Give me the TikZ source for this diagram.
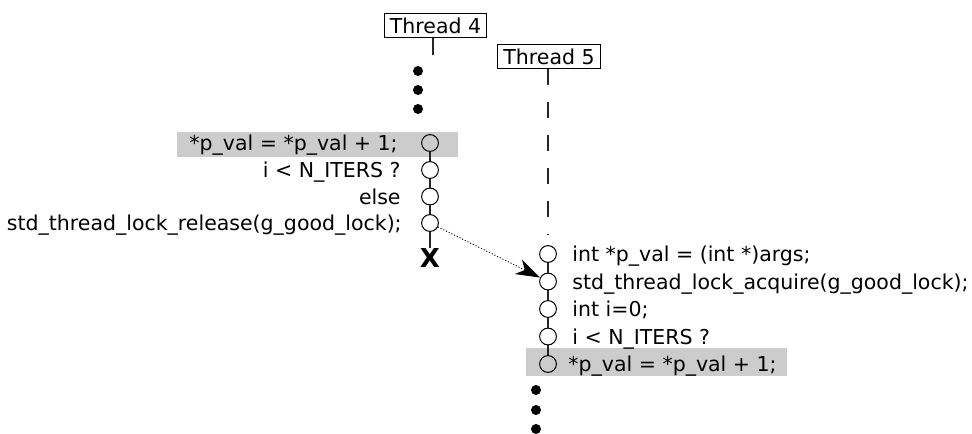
\documentclass[tikz,border=0pt]{standalone}
\usepackage{fontspec}
\setmainfont{DejaVu Sans}
\usetikzlibrary{arrows.meta}
\tikzset{>={Stealth[length=12pt,width=8pt,inset=3.5pt]}}
\tikzset{
    thread/.style={draw, inner xsep=2.8pt, inner ysep=1.8pt, line width=0.5pt},
    op/.style={circle, draw, minimum size=8.4pt, inner sep=0pt, line width=0.5pt},
    code/.style={inner sep=0pt},
    wire/.style={line width=0.6pt, black!85},
}

\begin{document}
\begin{tikzpicture}[x=0.5pt, y=-0.5pt, font=\fontsize{10.25}{12}\selectfont]
    \useasboundingbox (0,0) rectangle (972,433);
    % highlighted statements
    \fill[gray!40] (177,132) rectangle (458,157);
    \fill[gray!40] (526,348) rectangle (787,376);

    % Thread 4
    \node[thread] (t4) at (435.5,25.5) {Thread 4};
    \coordinate (t4end) at (433,55);
    \draw[wire] (t4.south -| t4end) -- (t4end);
    \foreach \y in {71,90,109} \fill (418,\y) circle (2.5pt);
    \node[op] (a1) at (430,143) {};
    \node[op] (a2) at (430,170) {};
    \node[op] (a3) at (430,196.5) {};
    \node[op] (a4) at (430,223) {};
    \node[inner sep=0pt, font=\fontsize{13}{13}\selectfont\bfseries] (ax) at (430,258) {X};
    \draw[wire] (a1) -- (a2) -- (a3) -- (a4) -- (ax);
    \node[code, anchor=base east] (a1t) at (398,150.5) {*p\_val = *p\_val + 1;};
    \node[code, anchor=base east] (a2t) at (401,177.5) {i < N\_ITERS ?};
    \node[code, anchor=base east] (a3t) at (401,204) {else};
    \node[code, anchor=base east] (a4t) at (402,230.5) {std\_thread\_lock\_release(g\_good\_lock);};

    % Thread 5
    \node[thread] (t5) at (549,56.5) {Thread 5};
    \coordinate (t5end) at (548,235);
    \draw[wire, dash pattern=on 8pt off 8.5pt] (t5.south -| t5end) -- (t5end);
    \node[op] (b1) at (548,254) {};
    \node[op] (b2) at (548,281.5) {};
    \node[op] (b3) at (548,309) {};
    \node[op] (b4) at (548,336.5) {};
    \node[op] (b5) at (548,364) {};
    \draw[wire] (b1) -- (b2) -- (b3) -- (b4) -- (b5);
    \foreach \y in {390,410,429} \fill (536,\y) circle (2.5pt);
    \node[code, anchor=base west] (b1t) at (572,261.5) {int *p\_val = (int *)args;};
    \node[code, anchor=base west] (b2t) at (572,289) {std\_thread\_lock\_acquire(g\_good\_lock);};
    \node[code, anchor=base west] (b3t) at (572,316.5) {int i=0;};
    \node[code, anchor=base west] (b4t) at (572,344) {i < N\_ITERS ?};
    \node[code, anchor=base west] (b5t) at (568,371.5) {*p\_val = *p\_val + 1;};

    % lock hand-over
    \draw[->, densely dotted, line width=0.5pt] (a4) -- (b2);
\end{tikzpicture}
\end{document}
